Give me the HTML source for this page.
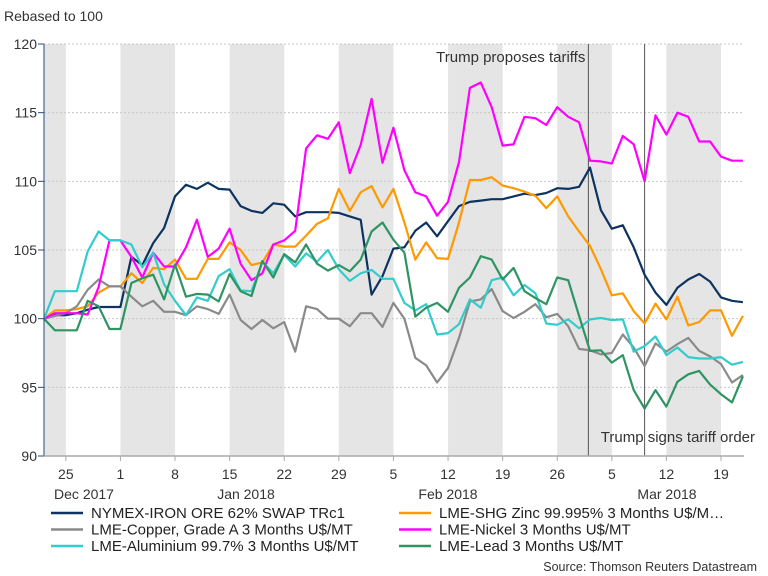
<!DOCTYPE html>
<html><head><meta charset="utf-8"><style>
body{margin:0;background:#fff;}
svg{display:block;font-family:"Liberation Sans",Arial,sans-serif;}
</style></head><body>
<svg id="chart" width="768" height="576" viewBox="0 0 768 576" xmlns="http://www.w3.org/2000/svg">
<text x="4" y="21" font-size="14" fill="#333">Rebased to 100</text>
<g id="bands"></g><g id="grid"></g><g id="events"></g><g id="series"></g><g id="axes"></g><g id="legend"></g>
<text x="757" y="571" font-size="12.5" fill="#333" text-anchor="end">Source: Thomson Reuters Datastream</text>
</svg>
<script>
const yTicks=[90,95,100,105,110,115,120];
const weekTickIdx=[2,7,12,17,22,27,32,37,42,47,52,57,62];
const weekTickLabels=["25","1","8","15","22","29","5","12","19","26","5","12","19"];
const monthLabels=["Dec 2017","Jan 2018","Feb 2018","Mar 2018"];
const monthLabelX=[84,246,448,667];
const shadedWeeks=[[0,2],[7,12],[17,22],[27,32],[37,42],[47,52],[57,62]];
const eventIdx=[49.85,55];
const eventLabels=["Trump proposes tariffs","Trump signs tariff order"];
const seriesNames=["NYMEX-IRON ORE 62% SWAP TRc1","LME-SHG Zinc 99.995% 3 Months U$/M…","LME-Copper, Grade A 3 Months U$/MT","LME-Nickel 3 Months U$/MT","LME-Aluminium 99.7% 3 Months U$/MT","LME-Lead 3 Months U$/MT"];
const seriesColors=["#0d3461","#ff9900","#8a8a8a","#ff00ff","#33cccc","#2e9462"];
const iron=[100,100.25,100.25,100.4,100.65,100.85,100.85,100.85,104.5,103.9,105.5,106.6,108.9,109.75,109.45,109.9,109.45,109.4,108.2,107.85,107.7,108.4,108.3,107.45,107.75,107.75,107.75,107.7,107.45,107.2,101.75,103.1,105.1,105.2,106.4,107.0,106.0,107.1,108.2,108.5,108.6,108.7,108.7,108.9,109.1,109.0,109.15,109.5,109.45,109.6,111.0,107.9,106.55,106.8,105.2,103.2,101.9,101.0,102.25,102.85,103.25,102.7,101.55,101.3,101.2];
const zinc=[100,100.6,100.6,100.7,100.9,101.9,102.35,102.35,103.3,102.6,103.7,103.6,104.3,102.9,102.9,104.35,104.35,105.55,105.0,103.9,104.1,105.4,105.25,105.25,106.05,106.9,107.3,109.45,107.85,109.2,109.65,108.1,109.45,107.0,104.3,105.55,104.4,104.35,107.0,110.1,110.1,110.3,109.7,109.5,109.25,108.95,108.05,108.9,107.45,106.35,105.3,103.6,101.7,101.85,100.55,99.65,101.1,99.95,101.6,99.5,99.75,100.6,100.6,98.75,100.2];
const copper=[100,100.2,100.4,100.9,102.1,102.85,102.35,102.35,101.6,100.9,101.3,100.5,100.5,100.25,100.9,100.7,100.35,101.75,99.9,99.25,99.9,99.3,99.75,97.6,100.9,100.7,100.0,100.0,99.45,100.4,100.4,99.4,101.15,100.0,97.15,96.6,95.35,96.4,98.6,101.25,101.4,102.15,100.55,100.05,100.5,101.05,100.1,100.35,99.45,97.8,97.7,97.4,97.5,98.85,97.9,96.55,98.2,97.6,98.15,98.6,97.65,97.25,96.7,95.35,95.9];
const nickel=[100,100.4,100.4,100.4,100.3,102.3,105.7,105.7,104.5,103.0,104.8,103.8,103.8,105.2,107.2,104.5,105.1,106.55,104.0,102.8,103.3,105.4,105.7,106.4,112.4,113.35,113.1,114.3,110.6,112.65,116.0,111.35,113.9,110.8,109.2,108.9,107.5,108.5,111.4,116.8,117.2,115.4,112.6,112.7,114.7,114.6,114.1,115.4,114.7,114.3,111.5,111.45,111.3,113.3,112.7,110.0,114.8,113.4,115.0,114.7,112.9,112.9,111.8,111.5,111.5];
const aluminium=[100,102.0,102.0,102.0,104.9,106.35,105.7,105.7,105.4,103.75,104.8,102.5,101.3,100.25,101.55,101.3,103.1,103.6,102.05,102.0,104.15,103.3,104.65,103.8,104.75,104.15,105.0,103.6,102.75,103.3,103.55,102.9,102.9,101.15,100.6,101.05,98.85,98.95,99.6,101.4,100.8,102.8,103.0,101.7,102.45,101.85,99.65,99.55,99.95,99.3,99.95,100.05,99.9,99.95,97.6,98.0,98.7,97.35,97.9,97.2,97.1,97.1,97.2,96.65,96.85];
const lead=[100,99.15,99.15,99.15,101.3,100.9,99.25,99.25,102.6,102.95,103.2,101.4,103.95,101.6,101.8,101.75,101.25,103.25,102.0,101.65,104.2,103.0,104.7,104.1,105.4,104.0,103.5,103.9,103.45,104.3,106.35,107.0,105.75,104.8,100.15,100.8,101.15,100.5,102.25,103.0,104.55,104.3,102.85,103.7,102.0,101.5,101.05,103.0,102.8,100.2,97.65,97.7,96.8,97.35,94.8,93.45,94.8,93.6,95.4,95.95,96.2,95.2,94.5,93.9,95.8];
const allSeries=[iron,zinc,copper,nickel,aluminium,lead];
const seriesKeys=["iron-ore","zinc","copper","nickel","aluminium","lead"];

const NS="http://www.w3.org/2000/svg";
const X0=44,STEP=10.92,PLOT_R=744,Y_TOP=44,Y_BOT=456,VMIN=90,VMAX=120;
const xS=i=>X0+i*STEP;
const yS=v=>Y_BOT-(v-VMIN)/(VMAX-VMIN)*(Y_BOT-Y_TOP);
function mk(tag,attrs,parent,text){const e=document.createElementNS(NS,tag);for(const k in attrs)e.setAttribute(k,attrs[k]);if(text!==undefined)e.textContent=text;parent.appendChild(e);return e;}
const gB=document.getElementById('bands'),gG=document.getElementById('grid'),gE=document.getElementById('events'),gS=document.getElementById('series'),gA=document.getElementById('axes'),gL=document.getElementById('legend');
shadedWeeks.forEach((w,k)=>{const r=mk('rect',{x:xS(w[0]),y:Y_TOP,width:Math.min(xS(w[1]),PLOT_R)-xS(w[0]),height:Y_BOT-Y_TOP,fill:'#e5e5e5'},gB);

});
yTicks.forEach(v=>{
 if(v>VMIN){const l=mk('line',{x1:X0,x2:PLOT_R,y1:yS(v),y2:yS(v),stroke:'#c8c8c8','stroke-dasharray':'2,2','stroke-width':1},gG);
 
 }
 const t=mk('text',{x:37,y:yS(v)+5,'font-size':14,fill:'#333','text-anchor':'end'},gA,String(v));
 
 
 mk('line',{x1:38,x2:X0,y1:yS(v),y2:yS(v),stroke:'#1f4e79','stroke-width':1},gA);
});
eventIdx.forEach((ei,k)=>{const l=mk('line',{x1:xS(ei),x2:xS(ei),y1:Y_TOP,y2:Y_BOT,stroke:'#555','stroke-width':1},gE);

});
let ta=mk('text',{x:xS(eventIdx[0])-3,y:62,'font-size':15,fill:'#333','text-anchor':'end'},gE,eventLabels[0]);


let tb=mk('text',{x:755,y:442,'font-size':15,fill:'#333','text-anchor':'end'},gE,eventLabels[1]);


allSeries.forEach((s,k)=>{const d=s.map((v,i)=>(i?'L':'M')+xS(i).toFixed(1)+','+yS(v).toFixed(1)).join('');
 const p=mk('path',{d:d,fill:'none',stroke:seriesColors[k],'stroke-width':2.2,'stroke-linejoin':'round'},gS);
 
 });
mk('line',{x1:X0,x2:X0,y1:Y_TOP,y2:Y_BOT,stroke:'#1f4e79','stroke-width':1},gA);
mk('line',{x1:X0,x2:PLOT_R,y1:Y_BOT,y2:Y_BOT,stroke:'#aaa','stroke-width':1.5},gA);
weekTickIdx.forEach((wi,k)=>{mk('line',{x1:xS(wi),x2:xS(wi),y1:Y_BOT,y2:Y_BOT+5,stroke:'#aaa'},gA);
 const t=mk('text',{x:xS(wi),y:479,'font-size':14,fill:'#333','text-anchor':'middle'},gA,weekTickLabels[k]);
 
 });
monthLabels.forEach((m,k)=>{const t=mk('text',{x:monthLabelX[k],y:499,'font-size':14,fill:'#333','text-anchor':'middle'},gA,m);
 
 });
const legOrder=[0,1,2,3,4,5];
legOrder.forEach((k,j)=>{const col=j%2,row=Math.floor(j/2);const lx=col?399:51,ly=513+row*16.5;
 const g=mk('g',{},gL);
 
 
 mk('line',{x1:lx,x2:lx+32,y1:ly,y2:ly,stroke:seriesColors[k],'stroke-width':2.5},g);
 mk('text',{x:lx+40,y:ly+5,'font-size':15,fill:'#222'},g,seriesNames[k]);});
</script>
</body></html>
